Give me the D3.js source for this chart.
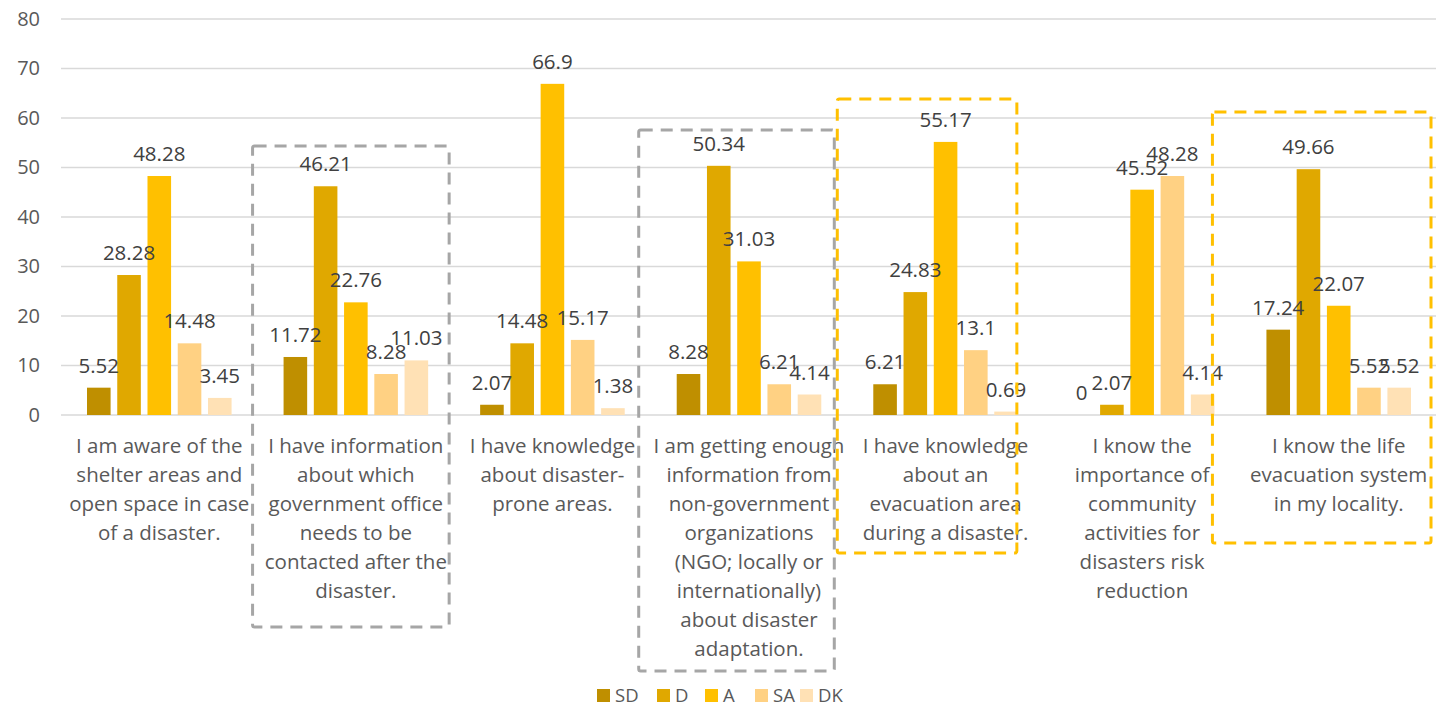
<!DOCTYPE html>
<html>
<head>
<meta charset="utf-8">
<script src="https://cdn.jsdelivr.net/npm/d3@7"></script>
<style>
    body { margin: 0; background: #fff; }
    svg { display: block; font-family: "Open Sans", sans-serif; }
</style>
</head>
<body>
<div id="chart"></div>
<script>
// Data
const categories = [
    ['I am aware of the', 'shelter areas and', 'open space in case', 'of a disaster.'],
    ['I have information', 'about which', 'government office', 'needs to be', 'contacted after the', 'disaster.'],
    ['I have knowledge', 'about disaster-', 'prone areas.'],
    ['I am getting enough', 'information from', 'non-government', 'organizations', '(NGO; locally or', 'internationally)', 'about disaster', 'adaptation.'],
    ['I have knowledge', 'about an', 'evacuation area', 'during a disaster.'],
    ['I know the', 'importance of', 'community', 'activities for', 'disasters risk', 'reduction'],
    ['I know the life', 'evacuation system', 'in my locality.']
];
const seriesNames = ['SD', 'D', 'A', 'SA', 'DK'];
const SD = [5.52, 11.72, 2.07, 8.28, 6.21, 0, 17.24];
const D  = [28.28, 46.21, 14.48, 50.34, 24.83, 2.07, 49.66];
const A  = [48.28, 22.76, 66.9, 31.03, 55.17, 45.52, 22.07];
const SA = [14.48, 8.28, 15.17, 6.21, 13.1, 48.28, 5.52];
const DK = [3.45, 11.03, 1.38, 4.14, 0.69, 4.14, 5.52];
const seriesValues = [SD, D, A, SA, DK];
const yTicks = [0, 10, 20, 30, 40, 50, 60, 70, 80];

const colors = ['#bf8f00', '#e0a800', '#ffc000', '#ffd183', '#ffe1b5'];

const width = 1441, height = 714;
const margin = { top: 19, right: 4, bottom: 299, left: 61 };

const svg = d3.select('#chart').append('svg')
    .attr('width', width)
    .attr('height', height);

const x0 = d3.scaleBand()
    .domain(d3.range(categories.length))
    .range([margin.left, width - margin.right])
    .paddingInner(0)
    .paddingOuter(0);

const x1 = d3.scaleBand()
    .domain(d3.range(seriesNames.length))
    .range([26, x0.bandwidth() - 26])
    .paddingInner(0.22);

const y = d3.scaleLinear()
    .domain([0, 80])
    .range([height - margin.bottom, margin.top]);

// Gridlines
svg.append('g')
    .selectAll('line')
    .data(yTicks)
    .enter().append('line')
    .attr('x1', margin.left)
    .attr('x2', width - 5)
    .attr('y1', d => y(d))
    .attr('y2', d => y(d))
    .attr('stroke', '#d9d9d9')
    .attr('stroke-width', 1.3);

// Y axis labels
const yAxis = d3.axisLeft(y).tickValues(yTicks).tickSize(0).tickPadding(21);
svg.append('g')
    .attr('transform', `translate(${margin.left},0)`)
    .call(yAxis)
    .call(g => g.select('.domain').remove())
    .call(g => g.selectAll('text')
        .attr('fill', '#595959')
        .attr('font-size', 20)
        .attr('font-family', '"Open Sans", sans-serif'));

// Bars
const groups = svg.append('g')
    .selectAll('g')
    .data(categories)
    .enter().append('g')
    .attr('transform', (d, i) => `translate(${x0(i)},0)`);

groups.selectAll('rect')
    .data((d, i) => seriesValues.map((s, j) => ({ s: j, v: s[i] })))
    .enter().append('rect')
    .attr('x', d => x1(d.s))
    .attr('width', x1.bandwidth())
    .attr('y', d => y(d.v))
    .attr('height', d => y(0) - y(d.v))
    .attr('fill', d => colors[d.s]);

// Value labels
groups.selectAll('text.val')
    .data((d, i) => seriesValues.map((s, j) => ({ s: j, v: s[i] })))
    .enter().append('text')
    .attr('class', 'val')
    .attr('x', d => x1(d.s) + x1.bandwidth() / 2)
    .attr('y', d => y(d.v) - 15)
    .attr('text-anchor', 'middle')
    .attr('fill', '#404040')
    .attr('font-size', 20.5)
    .text(d => d.v);

// Category labels
groups.append('text')
    .attr('text-anchor', 'middle')
    .attr('fill', '#595959')
    .attr('font-size', 20.5)
    .selectAll('tspan')
    .data(d => d)
    .enter().append('tspan')
    .attr('x', x0.bandwidth() / 2)
    .attr('y', (d, i) => y(0) + 38 + i * 29)
    .text(d => d);

// Dashed highlight boxes
const boxes = [
    { cat: 1, left: -5, right: -5, top: 146, bottom: 627, color: '#a6a6a6' },
    { cat: 3, left: -12, right: -13, top: 130, bottom: 671, color: '#a6a6a6' },
    { cat: 4, left: -10, right: -27, top: 99, bottom: 553, color: '#ffc000' },
    { cat: 6, left: -28, right: -6, top: 112, bottom: 543, color: '#ffc000' }
];
svg.append('g')
    .selectAll('rect')
    .data(boxes)
    .enter().append('rect')
    .attr('x', d => x0(d.cat) + d.left)
    .attr('y', d => d.top)
    .attr('width', d => x0.bandwidth() + d.right - d.left)
    .attr('height', d => d.bottom - d.top)
    .attr('fill', 'none')
    .attr('stroke', d => d.color)
    .attr('stroke-width', 3)
    .attr('stroke-dasharray', '12,8')
    .attr('rx', 2);

// Legend
const legendX = [597, 657, 705, 755, 800];
const legend = svg.append('g')
    .selectAll('g')
    .data(seriesNames)
    .enter().append('g')
    .attr('transform', (d, i) => `translate(${legendX[i]},689)`);
legend.append('rect')
    .attr('width', 13)
    .attr('height', 13)
    .attr('fill', (d, i) => colors[i]);
legend.append('text')
    .attr('x', 18)
    .attr('y', 13)
    .attr('fill', '#595959')
    .attr('font-size', 18.5)
    .text(d => d);
</script>
</body>
</html>
